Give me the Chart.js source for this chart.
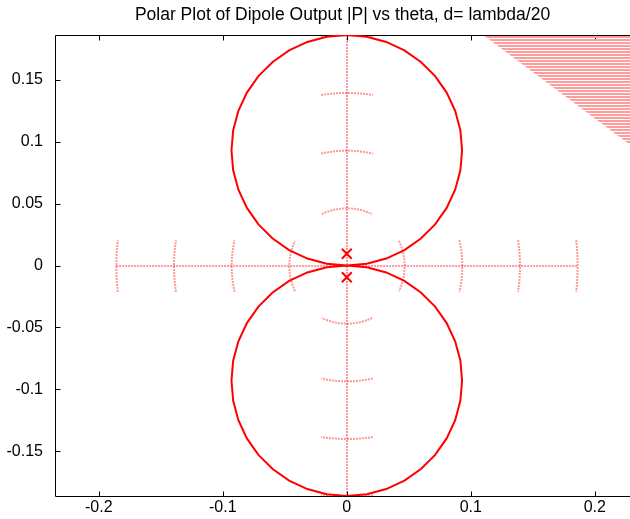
<!DOCTYPE html>
<html>
<head>
<meta charset="utf-8">
<script src="https://cdn.jsdelivr.net/npm/chart.js@4.4.0/dist/chart.umd.min.js"></script>
<style>
    html, body { margin: 0; padding: 0; overflow: hidden; background: #fff; }
</style>
</head>
<body>
<canvas id="myChart" width="630" height="519"></canvas>
<script>
// Angles (degrees) and radius of the dipole pattern |P|
const thetaDeg = [
    0, 5, 10, 15, 20, 25, 30, 35, 40, 45, 50, 55, 60, 65, 70, 75, 80, 85, 90,
    95, 100, 105, 110, 115, 120, 125, 130, 135, 140, 145, 150, 155, 160, 165, 170, 175, 180,
    185, 190, 195, 200, 205, 210, 215, 220, 225, 230, 235, 240, 245, 250, 255, 260, 265, 270,
    275, 280, 285, 290, 295, 300, 305, 310, 315, 320, 325, 330, 335, 340, 345, 350, 355, 360
];
const patternR = [
    0, 0.0162, 0.0323, 0.0481, 0.0636, 0.0786, 0.0930, 0.1067, 0.1196, 0.1315, 0.1425, 0.1524, 0.1611, 0.1686, 0.1748, 0.1797, 0.1832, 0.1853, 0.1860,
    0.1853, 0.1832, 0.1797, 0.1748, 0.1686, 0.1611, 0.1524, 0.1425, 0.1315, 0.1196, 0.1067, 0.0930, 0.0786, 0.0636, 0.0481, 0.0323, 0.0162, 0,
    0.0162, 0.0323, 0.0481, 0.0636, 0.0786, 0.0930, 0.1067, 0.1196, 0.1315, 0.1425, 0.1524, 0.1611, 0.1686, 0.1748, 0.1797, 0.1832, 0.1853, 0.1860,
    0.1853, 0.1832, 0.1797, 0.1748, 0.1686, 0.1611, 0.1524, 0.1425, 0.1315, 0.1196, 0.1067, 0.0930, 0.0786, 0.0636, 0.0481, 0.0323, 0.0162, 0
];

// Source positions (the two 'x' marks)
const sourceX = [0, 0];
const sourceY = [0.0095, -0.0095];

// Polar grid circles
const gridRadii = [0.0465, 0.093, 0.1395, 0.186];

// Hatched corner patch
const hatchX = [0.110, 0.2284, 0.2284, 0.110];
const hatchY = [0.186, 0.186, 0.0975, 0.186];

// Axes (the right edge of the axes box is cut off in the picture)
const xTicks = [-0.2, -0.1, 0, 0.1, 0.2];
const yTicks = [-0.15, -0.1, -0.05, 0, 0.05, 0.1, 0.15];
const xRange = [-0.2353, 0.2284];
const yRange = [-0.186, 0.186];

const ctx = document.getElementById('myChart').getContext('2d');

// stripe pattern for the corner patch
const pc = document.createElement('canvas');
pc.width = 4;
pc.height = 3;
const pctx = pc.getContext('2d');
pctx.fillStyle = '#ff9c9c';
pctx.fillRect(0, 0, 4, 2);
const hatch = ctx.createPattern(pc, 'repeat');

const curvePoints = thetaDeg.map((t, i) => ({
    x: patternR[i] * Math.cos(t * Math.PI / 180),
    y: patternR[i] * Math.sin(t * Math.PI / 180),
}));

// polar grid, frame and inward ticks
const frame = {
    id: 'frame',
    beforeDatasetsDraw(chart) {
        const { ctx, chartArea: a, scales: { x, y } } = chart;
        const cx = Math.round(x.getPixelForValue(0));
        const cy = Math.round(y.getPixelForValue(0));
        const rMax = gridRadii[gridRadii.length - 1];

        ctx.save();
        ctx.beginPath();
        ctx.rect(a.left, a.top, a.right - a.left, a.bottom - a.top);
        ctx.clip();
        ctx.strokeStyle = 'rgba(255,0,0,0.4)';
        ctx.lineWidth = 2;
        ctx.setLineDash([2, 1]);
        ctx.beginPath();
        ctx.moveTo(x.getPixelForValue(-rMax), cy);
        ctx.lineTo(x.getPixelForValue(rMax), cy);
        ctx.moveTo(cx, y.getPixelForValue(rMax));
        ctx.lineTo(cx, y.getPixelForValue(-rMax));
        ctx.stroke();
        gridRadii.forEach(r => {
            const rp = x.getPixelForValue(r) - x.getPixelForValue(0);
            const half = Math.min(26 / rp, 0.45);
            [0, 0.5, 1, 1.5].forEach(k => {
                ctx.beginPath();
                ctx.arc(cx, cy, rp, k * Math.PI - half, k * Math.PI + half);
                ctx.stroke();
            });
        });
        ctx.restore();

        ctx.save();
        ctx.strokeStyle = '#000';
        ctx.lineWidth = 1;
        const l = a.left + 0.5, t = a.top + 0.5, b = a.bottom + 0.5;
        ctx.beginPath();
        ctx.moveTo(a.right, t);
        ctx.lineTo(l, t);
        ctx.lineTo(l, b);
        ctx.lineTo(a.right, b);
        xTicks.forEach(v => {
            const px = Math.round(x.getPixelForValue(v)) + 0.5;
            ctx.moveTo(px, b);
            ctx.lineTo(px, b - 5);
            ctx.moveTo(px, t);
            ctx.lineTo(px, t + 5);
        });
        yTicks.forEach(v => {
            const py = Math.round(y.getPixelForValue(v)) + 0.5;
            ctx.moveTo(l, py);
            ctx.lineTo(l + 5, py);
        });
        ctx.stroke();
        ctx.restore();
    }
};

const tickFont = { family: 'Arial, "Liberation Sans"', size: 16 };

new Chart(ctx, {
    type: 'scatter',
    data: {
        datasets: [
            {
                data: sourceX.map((v, i) => ({ x: v, y: sourceY[i] })),
                pointStyle: 'crossRot',
                pointRadius: 7,
                pointBorderWidth: 2,
                borderColor: '#ff0000',
                backgroundColor: '#ff0000',
            },
            {
                data: curvePoints,
                showLine: true,
                pointRadius: 0,
                borderColor: '#ff0000',
                borderWidth: 2,
                fill: false,
            },
            {
                data: hatchX.map((v, i) => ({ x: v, y: hatchY[i] })),
                showLine: true,
                pointRadius: 0,
                borderWidth: 0,
                borderColor: 'rgba(0,0,0,0)',
                backgroundColor: hatch,
                fill: 'shape',
            },
        ],
    },
    options: {
        responsive: false,
        animation: false,
        events: [],
        layout: { padding: 0, autoPadding: false },
        plugins: {
            legend: { display: false },
            tooltip: { enabled: false },
            title: {
                display: true,
                fullSize: false,
                text: 'Polar Plot of Dipole Output |P| vs theta, d= lambda/20',
                color: '#000',
                font: { family: 'Arial, "Liberation Sans"', size: 17.5, weight: 'normal' },
                padding: { top: 5, bottom: 9 },
            },
        },
        scales: {
            x: {
                type: 'linear',
                min: xRange[0],
                max: xRange[1],
                grid: { display: false, drawTicks: false },
                border: { display: false },
                ticks: {
                    color: '#000',
                    font: tickFont,
                    padding: 2,
                    callback: v => String(v),
                },
                afterBuildTicks: scale => { scale.ticks = xTicks.map(v => ({ value: v })); },
                afterFit: scale => {
                    scale.height = 23;
                    scale.paddingLeft = 0;
                    scale.paddingRight = 0;
                },
            },
            y: {
                type: 'linear',
                min: yRange[0],
                max: yRange[1],
                grid: { display: false, drawTicks: false },
                border: { display: false },
                ticks: {
                    color: '#000',
                    font: tickFont,
                    padding: 12,
                    callback: v => String(v),
                },
                afterBuildTicks: scale => { scale.ticks = yTicks.map(v => ({ value: v })); },
                afterFit: scale => {
                    scale.width = 55;
                    scale.paddingTop = 0;
                    scale.paddingBottom = 0;
                },
            },
        },
    },
    plugins: [frame],
});
</script>
</body>
</html>
